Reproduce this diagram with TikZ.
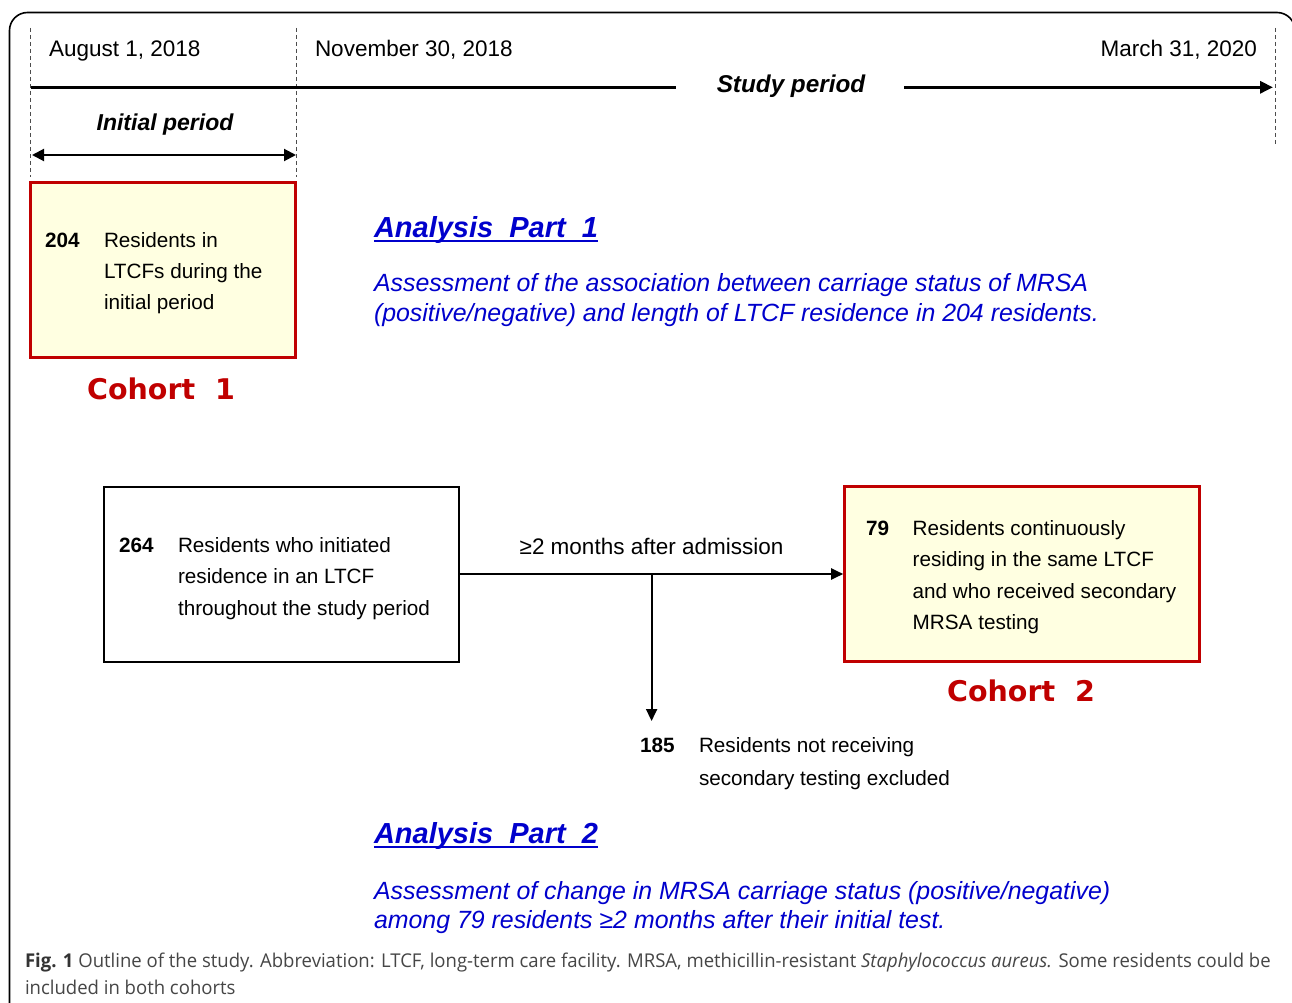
\documentclass[tikz,border=0pt]{standalone}
\usepackage{fontspec}
\setmainfont{Liberation Sans}
\newfontfamily\cohortfont{DejaVu Sans}
\newfontfamily\capfont{Open Sans}[FakeStretch=0.975]
\usetikzlibrary{arrows.meta}
\definecolor{cred}{RGB}{192,0,0}
\definecolor{cfill}{RGB}{255,255,225}
\definecolor{cblue}{RGB}{0,0,204}
\definecolor{capgray}{RGB}{70,70,70}
\begin{document}
\begin{tikzpicture}[x=1pt,y=-1pt,
  every node/.style={inner sep=0pt, outer sep=0pt},
  txt/.style={anchor=base west, font=\fontsize{20.7}{24}\selectfont},
  num/.style={anchor=base west, font=\fontsize{20.7}{24}\selectfont\bfseries},
  datelbl/.style={anchor=base west, font=\fontsize{22.5}{26}\selectfont},
  period/.style={anchor=base, font=\fontsize{23}{27}\selectfont\bfseries\itshape},
  blueital/.style={anchor=base west, text=cblue, font=\fontsize{24.9}{28}\selectfont\itshape},
  bluehead/.style={anchor=base west, text=cblue, font=\fontsize{29}{33}\selectfont\bfseries\itshape},
  cohort/.style={anchor=base, text=cred, font=\cohortfont\fontsize{28.5}{32}\selectfont\bfseries},
  cbox/.style={draw=cred, line width=3pt, fill=cfill, anchor=north west},
  wbox/.style={draw=black, line width=2pt, anchor=north west},
  vdash/.style={draw=black!70, line width=0.8pt, dash pattern=on 4pt off 3pt},
  conn/.style={line width=2pt, -{Triangle[length=12pt,width=11pt]}},
  uline/.style={draw=cblue, line width=1.8pt},
  captxt/.style={anchor=base west, text=capgray, font=\capfont\fontsize{19}{27}\selectfont},
]
\useasboundingbox (0,0) rectangle (1292,1003);
\fill[white] (0,0) rectangle (1292,1003);
\begin{scope}
\clip (0,0) rectangle (1292,1003);
\draw[line width=1.6pt, rounded corners=18pt] (9.5,12.5) rectangle (1295,1030);
\end{scope}

% dashed guide lines
\coordinate (gA1) at (30,28);   \coordinate (gA2) at (30,177);
\coordinate (gB1) at (296,28);  \coordinate (gB2) at (296,177);
\coordinate (gC1) at (1275.5,28); \coordinate (gC2) at (1275.5,145);
\draw[vdash] (gA1) -- (gA2);
\draw[vdash] (gB1) -- (gB2);
\draw[vdash] (gC1) -- (gC2);

% dates
\node[datelbl] (d1) at (49,57) {August 1, 2018};
\node[datelbl] (d2) at (315,57) {November 30, 2018};
\node[datelbl, anchor=base east] (d3) at (1257,57) {March 31, 2020};

% timeline
\node[period, font=\fontsize{24.3}{28}\selectfont\bfseries\itshape] (sp) at (791,93) {Study period};
\coordinate (t0) at (31,87.3);  \coordinate (t1) at (676,87.3);
\coordinate (t2) at (904,87.3); \coordinate (t3) at (1273,87.3);
\draw[line width=3pt] (t0) -- (t1);
\draw[line width=3pt, -{Triangle[length=13pt,width=12pt]}] (t2) -- (t3);

% initial period
\node[period] (ip) at (165,131) {Initial period};
\coordinate (ia) at (32,155); \coordinate (ib) at (296,155);
\draw[line width=2pt, {Triangle[length=12pt,width=12pt]}-{Triangle[length=12pt,width=12pt]}] (ia) -- (ib);

% cohort 1 box
\node[cbox, minimum width=265pt, minimum height=174pt] (c1) at (30.5,183) {};
\node[num] (n204) at (45,247) {204};
\node[txt] (c1a) at (104,247) {Residents in};
\node[txt] (c1b) at (104,278) {LTCFs during the};
\node[txt] (c1c) at (104,309) {initial period};
\node[cohort] (co1) at (161,399) {Cohort~~1};

% analysis part 1
\node[bluehead] (ap1) at (374,237) {Analysis~~Part~~1};
\draw[uline] ([yshift=-4pt]ap1.base west) -- ([yshift=-4pt]ap1.base east);
\node[blueital] (ap1a) at (374,291.7) {Assessment of the association between carriage status of MRSA};
\node[blueital] (ap1b) at (374,321.7) {(positive/negative) and length of LTCF residence in 204 residents.};

% 264 box
\node[wbox, minimum width=355pt, minimum height=175pt] (b264) at (104,486.5) {};
\node[num] (n264) at (119,552) {264};
\node[txt] (b1) at (178,552) {Residents who initiated};
\node[txt] (b2) at (178,583.5) {residence in an LTCF};
\node[txt] (b3) at (178,615) {throughout the study period};

% cohort 2 box
\node[cbox, minimum width=355.3pt, minimum height=175pt] (c2) at (844.2,486.5) {};
\node[num] (n79) at (866,535) {79};
\node[txt] (c2a) at (912.7,535) {Residents continuously};
\node[txt] (c2b) at (912.7,566.5) {residing in the same LTCF};
\node[txt] (c2c) at (912.7,598) {and who received secondary};
\node[txt] (c2d) at (912.7,629.5) {MRSA testing};
\node[cohort] (co2) at (1021,701) {Cohort~~2};

% connectors
\draw[conn, shorten >=1pt] (b264.east) -- (c2.west) coordinate[pos=0.5] (br);
\node[datelbl, anchor=base] (lab) at (651.5,554) {≥2 months after admission};
\coordinate (exy) at (0,721);
\coordinate (ex) at (br |- exy);
\draw[conn] (br) -- (ex);

% excluded
\node[num] (n185) at (640,752) {185};
\node[txt] (e1) at (699,752) {Residents not receiving};
\node[txt] (e2) at (699,785) {secondary testing excluded};

% analysis part 2
\node[bluehead] (ap2) at (374,843.3) {Analysis~~Part~~2};
\draw[uline] ([yshift=-4pt]ap2.base west) -- ([yshift=-4pt]ap2.base east);
\node[blueital] (ap2a) at (374,899.3) {Assessment of change in MRSA carriage status (positive/negative)};
\node[blueital] (ap2b) at (374,928.5) {among 79 residents ≥2 months after their initial test.};

% caption
\node[captxt] (cap1) at (25,967) {\textbf{\color{black!80}Fig. 1} Outline of the study. Abbreviation: LTCF, long-term care facility. MRSA, methicillin-resistant \textit{Staphylococcus aureus.} Some residents could be};
\node[captxt] (cap2) at (25,994) {included in both cohorts};
\end{tikzpicture}
\end{document}
